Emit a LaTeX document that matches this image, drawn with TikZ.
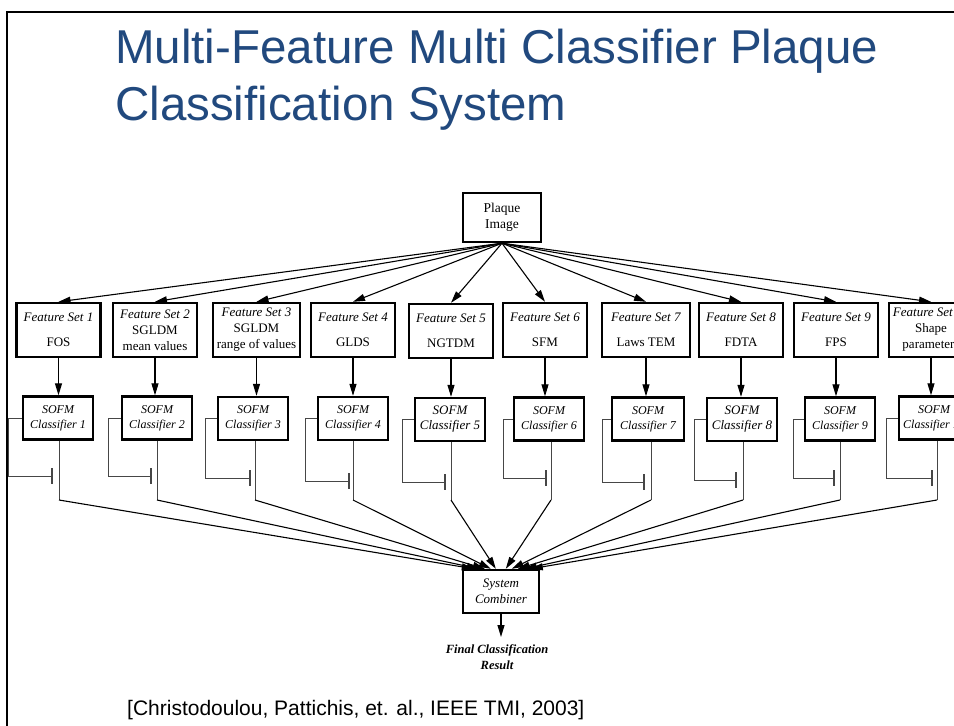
\documentclass[tikz,border=0pt]{standalone}
\usepackage{fontspec}
\setmainfont{Liberation Serif}
\newfontfamily\arialfont{Liberation Sans}
\usetikzlibrary{arrows.meta,calc}
\definecolor{titleblue}{RGB}{33,73,126}
\definecolor{linegray}{RGB}{70,70,70}
\begin{document}
\begin{tikzpicture}[x=1pt,y=-1pt,
  plainbox/.style={draw, line width=2.4pt, inner sep=0pt, align=center},
  fsbox/.style={plainbox, minimum width=84pt, minimum height=54pt, font=\fontsize{13}{16}\selectfont},
  clbox/.style={plainbox, minimum width=70pt, minimum height=43pt, font=\itshape\fontsize{12}{15}\selectfont},
  arr/.style={line width=1.1pt, -{Triangle[length=12pt,width=7pt]}},
  loopline/.style={line width=1pt, draw=linegray}]
\useasboundingbox (0,0) rectangle (954,726);
\clip (0,0) rectangle (954,726);
\fill[white] (0,0) rectangle (954,726);
% slide frame
\draw[line width=2.6pt] (7,740) -- (7,12) -- (970,12);
% title
\node[anchor=base west, inner sep=0pt, text=titleblue, font=\arialfont\fontsize{47.5}{57}\selectfont] (title1) at (115,63) {Multi-Feature Multi Classifier Plaque};
\node[anchor=base west, inner sep=0pt, text=titleblue, font=\arialfont\fontsize{47.5}{57}\selectfont] (title2) at (115,120) {Classification System};
% citation
\node[anchor=base west, inner sep=0pt, font=\arialfont\fontsize{21}{25}\selectfont] (cite) at (127,715) {[Christodoulou, Pattichis, et. al., IEEE TMI, 2003]};
% plaque image
\node[plainbox, minimum width=78pt, minimum height=49pt, font=\fontsize{13.5}{16}\selectfont] (pl) at (502,217.5) {Plaque\\Image};
% feature sets
\node[fsbox] (fs1) at (58.5,330) {\textit{Feature Set 1}\\[9pt]FOS};
\node[fsbox] (fs2) at (155,330) {\textit{Feature Set 2}\\SGLDM\\mean values};
\node[fsbox, minimum width=87pt] (fs3) at (256.5,330) {\textit{Feature Set 3}\\SGLDM\\range of values};
\node[fsbox] (fs4) at (353,330) {\textit{Feature Set 4}\\[9pt]GLDS};
\node[fsbox] (fs5) at (451,331) {\textit{Feature Set 5}\\[9pt]NGTDM};
\node[fsbox] (fs6) at (545,330) {\textit{Feature Set 6}\\[9pt]SFM};
\node[fsbox, minimum width=88pt] (fs7) at (646,330) {\textit{Feature Set 7}\\[9pt]Laws TEM};
\node[fsbox] (fs8) at (741,330) {\textit{Feature Set 8}\\[9pt]FDTA};
\node[fsbox] (fs9) at (836,330) {\textit{Feature Set 9}\\[9pt]FPS};
\node[fsbox] (fs10) at (931,330) {\textit{Feature Set 10}\\Shape\\parameters};
% classifiers
\node[clbox] (cl1) at (58,418) {SOFM\\Classifier 1};
\node[clbox] (cl2) at (157,418) {SOFM\\Classifier 2};
\node[clbox] (cl3) at (253,418.5) {SOFM\\Classifier 3};
\node[clbox] (cl4) at (353,418.5) {SOFM\\Classifier 4};
\node[clbox, font=\itshape\fontsize{13}{15}\selectfont] (cl5) at (450,419.5) {SOFM\\Classifier 5};
\node[clbox] (cl6) at (549,419) {SOFM\\Classifier 6};
\node[clbox, minimum width=72pt] (cl7) at (648,419) {SOFM\\Classifier 7};
\node[clbox, font=\itshape\fontsize{13}{15}\selectfont] (cl8) at (742,419.5) {SOFM\\Classifier 8};
\node[clbox] (cl9) at (840,419) {SOFM\\Classifier 9};
\node[clbox] (cl10) at (934,418) {SOFM\\Classifier 10};
% combiner
\node[plainbox, minimum width=76pt, minimum height=43pt, font=\itshape\fontsize{13}{16}\selectfont] (comb) at (501,591.5) {System\\Combiner};
\coordinate (fin) at (501,637);
\node[inner sep=0pt, align=center, font=\bfseries\itshape\fontsize{12.5}{16}\selectfont] (res) at (497,657) {Final Classification\\Result};
% plaque -> feature sets
\foreach \i in {1,...,10} \draw[arr] (pl.south) -- (fs\i.north);
% feature sets -> classifiers
\foreach \i in {1,...,10} \draw[arr] (fs\i.south) -- (fs\i.south |- cl\i.north);
% classifier outputs -> combiner
\foreach \i/\ox/\tx in {1/59/12,2/157/17,3/255/23,4/353/29,5/451/34,6/551/44,7/651/50,8/743/56,9/840/63,10/937/69}{
  \coordinate (o\i) at (\ox,500);
  \draw[loopline] (cl\i.south -| o\i) -- (o\i);
  \draw[arr] (o\i) -- ($(comb.north west)+(\tx,0)$);
}
% feedback loops
\foreach \i/\lx/\by/\tx in {1/8/476/52,2/108/476/151,3/205/478/250,4/305/481/349,5/402/482/445,6/503/478/546,7/602/482/644,8/694/480/736,9/793/478/834,10/886/478/932}{
  \coordinate (lb\i) at (\lx,\by);
  \coordinate (tk\i) at (\tx,\by);
  \draw[loopline] (cl\i.west) -| (lb\i) -- (tk\i);
  \draw[loopline, line width=1.2pt] ($(tk\i)+(0,-8)$) -- ($(tk\i)+(0,8)$);
}
% final output
\draw[arr] (comb.south) -- (fin);
\end{tikzpicture}
\end{document}
